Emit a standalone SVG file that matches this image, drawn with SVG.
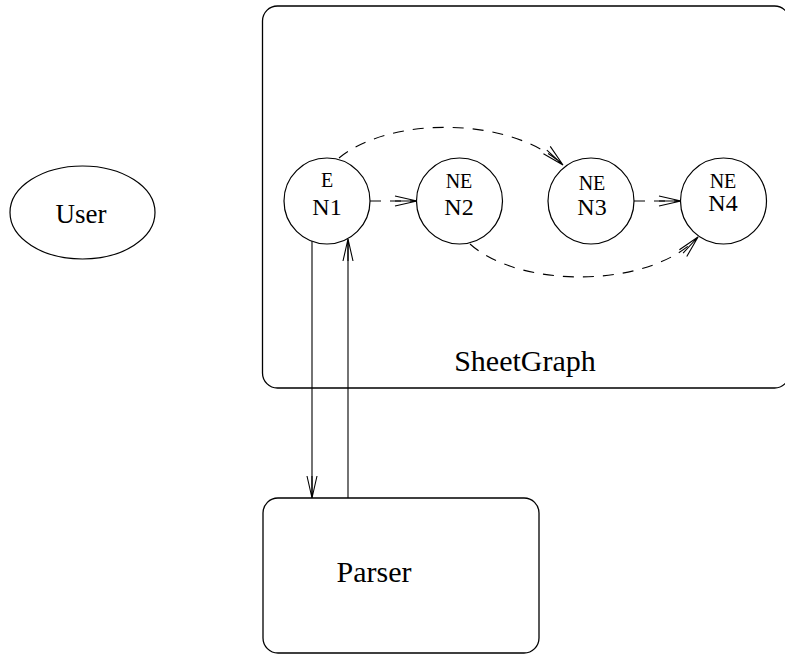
<svg xmlns="http://www.w3.org/2000/svg" width="785" height="654" viewBox="0 0 785 654">
<style>
  .box{fill:none;stroke:#000;stroke-width:1.3}
  .node{fill:#fff;stroke:#000;stroke-width:1.2}
  .lbl{font-family:"Liberation Serif","Times New Roman",serif;fill:#000;text-anchor:middle}
  .edge{fill:none;stroke:#000;stroke-width:1.1}
  .dash{stroke-dasharray:11 9}
</style>
<defs>
  <marker id="arr" markerUnits="userSpaceOnUse" markerWidth="24" markerHeight="12" refX="22" refY="5" orient="auto" overflow="visible">
    <path d="M0,0 L22,5 L0,10 M0,5 L22,5" fill="none" stroke="#000" stroke-width="1.1" stroke-dasharray="none"/>
  </marker>
</defs>
<rect width="785" height="654" fill="#fff"/>
<g id="SheetGraph">
  <rect class="box" x="262.5" y="6" width="527" height="382" rx="15" ry="15"/>
  <text class="lbl" x="525" y="371" font-size="30">SheetGraph</text>
</g>
<g id="User">
  <ellipse class="node" cx="82.5" cy="212.5" rx="72.5" ry="46.5"/>
  <text class="lbl" x="81" y="223" font-size="27">User</text>
</g>
<g id="Parser">
  <rect class="box" x="263" y="498" width="276" height="155" rx="15" ry="15"/>
  <text class="lbl" x="374" y="582" font-size="30">Parser</text>
</g>
<g id="connectors">
  <line class="edge dash" x1="370" y1="201" x2="417" y2="201" marker-end="url(#arr)"/>
  <line class="edge dash" x1="634" y1="201" x2="681" y2="201" marker-end="url(#arr)"/>
  <path class="edge dash" d="M339,158 C390,116 510,116 563,165" marker-end="url(#arr)"/>
  <path class="edge dash" d="M470,244 C520,289 650,289 698,237" marker-end="url(#arr)"/>
  <line class="edge" x1="312" y1="241" x2="312" y2="498" marker-end="url(#arr)"/>
  <line class="edge" x1="348" y1="498" x2="348" y2="239" marker-end="url(#arr)"/>
</g>
<g id="N1">
  <circle class="node" cx="327" cy="201" r="43"/>
  <text class="lbl" x="327" y="187" font-size="20">E</text>
  <text class="lbl" x="327" y="215" font-size="24">N1</text>
</g>
<g id="N2">
  <circle class="node" cx="459.5" cy="201" r="43"/>
  <text class="lbl" x="459" y="188" font-size="20">NE</text>
  <text class="lbl" x="459" y="215" font-size="24">N2</text>
</g>
<g id="N3">
  <circle class="node" cx="591" cy="201" r="43"/>
  <text class="lbl" x="592" y="190" font-size="20">NE</text>
  <text class="lbl" x="592" y="215" font-size="24">N3</text>
</g>
<g id="N4">
  <circle class="node" cx="723.5" cy="201" r="43"/>
  <text class="lbl" x="723" y="188" font-size="20">NE</text>
  <text class="lbl" x="723" y="211" font-size="24">N4</text>
</g>
</svg>
